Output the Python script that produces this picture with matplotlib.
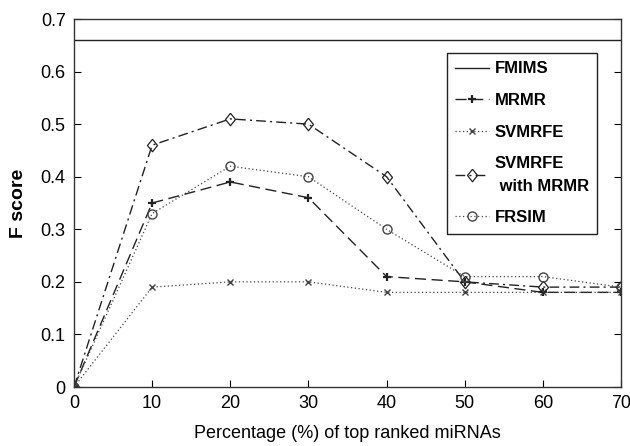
import matplotlib
matplotlib.use('Agg')
import matplotlib.pyplot as plt
import numpy as np

# 数据
pct = [0, 10, 20, 30, 40, 50, 60, 70]
fmims = [0.66] * 8
mrmr = [0, 0.35, 0.39, 0.36, 0.21, 0.20, 0.18, 0.18]
svmrfe = [0, 0.19, 0.20, 0.20, 0.18, 0.18, 0.18, 0.18]
svmrfe_mrmr = [0, 0.46, 0.51, 0.50, 0.40, 0.20, 0.19, 0.19]
frsim = [0, 0.33, 0.42, 0.40, 0.30, 0.21, 0.21, 0.19]

plt.rcParams['font.family'] = ['Liberation Sans', 'DejaVu Sans']

fig = plt.figure(figsize=(6.3, 4.46), dpi=100)
# 坐标轴位置 (像素)
ax = fig.add_axes([74 / 630, (446 - 387) / 446, 547 / 630, 368 / 446])

# 菱形标记，略扁
diamond = [(0, 1), (0.8, 0), (0, -1), (-0.8, 0), (0, 1)]

c = '#222222'
ax.plot(pct, fmims, '-', color=c, lw=1.0, label='FMIMS')
ax.plot(pct, mrmr, linestyle=(0, (8, 4)), color=c, lw=1.0, marker='+',
        ms=6, mew=1.6, label='MRMR')
ax.plot(pct, svmrfe, linestyle=(0, (1, 2)), color='#444444', lw=0.9,
        marker='x', ms=4, label='SVMRFE')
ax.plot(pct, svmrfe_mrmr, linestyle=(0, (7, 3, 1.5, 3)), color=c, lw=1.0,
        marker=diamond, ms=9, mfc='none', mew=0.9, label='SVMRFE\n with MRMR')
ax.plot(pct, frsim, linestyle=(0, (1, 2)), color='#444444', lw=0.9,
        marker='o', ms=6.5, mfc='none', label='FRSIM')

ax.set_xlim(0, 70)
ax.set_ylim(0, 0.7)
ax.set_xticks(np.arange(0, 71, 10))
ax.set_yticks(np.arange(0, 0.71, 0.1))
ax.set_yticklabels(['0', '0.1', '0.2', '0.3', '0.4', '0.5', '0.6', '0.7'])
ax.tick_params(direction='in', top=False, right=True, length=5,
               labelsize=13, pad=6, width=0.8)
for s in ax.spines.values():
    s.set_linewidth(1.0)
    s.set_color('#333333')

ax.set_xlabel('Percentage (%) of top ranked miRNAs', fontsize=13, labelpad=9)
ax.set_ylabel('F score', fontsize=14, fontweight='bold', labelpad=10)

leg = ax.legend(loc='upper right', fontsize=12, fancybox=False,
                edgecolor='#222222', framealpha=1, handlelength=2.0,
                borderpad=0.5, labelspacing=1.0, handletextpad=0.35,
                borderaxespad=0)
leg.get_frame().set_linewidth(1.0)
for t in leg.get_texts():
    t.set_fontweight('bold')
    t.set_linespacing(1.6)
# 调整图例位置
leg.set_bbox_to_anchor(((597 - 74) / 547, (387 - 53) / 368), transform=ax.transAxes)

plt.savefig('out.png', dpi=100)
plt.close()
